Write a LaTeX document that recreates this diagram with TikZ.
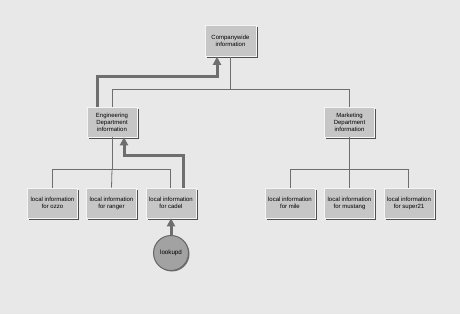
\documentclass[tikz,border=0pt]{standalone}
\usepackage{fontspec}
\setmainfont{Liberation Sans}
\usetikzlibrary{arrows.meta,shadows}
\definecolor{bggray}{HTML}{E8E8E8}
\definecolor{boxgray}{HTML}{C6C6C6}
\definecolor{linegray}{HTML}{6E6E6E}
\definecolor{shadowgray}{HTML}{505050}
\definecolor{ballgray}{HTML}{A2A2A2}
\begin{document}
\begin{tikzpicture}[x=1pt,y=-1pt,
    infobox/.style={rectangle,fill=boxgray,draw=white!80!boxgray,line width=0.6pt,
      minimum width=50pt,minimum height=30pt,inner sep=1pt,align=center,
      font=\fontsize{6}{7}\selectfont,
      drop shadow={shadow xshift=1.6pt,shadow yshift=-1.6pt,fill=shadowgray,opacity=1}},
    tree/.style={draw=linegray,line width=0.8pt},
    flow/.style={draw=linegray,line width=3pt,-{Triangle[length=8pt,width=8pt]}}]

\useasboundingbox (0,0) rectangle (460,314);
\fill[bggray] (0,0) rectangle (460,314);

   \node[infobox,minimum width=51pt,minimum height=31pt] at (230.5,41) (company) {Companywide\\information};
   \node[infobox] at (112,122) (eng) {Engineering\\Department\\information};
   \node[infobox] at (349.5,122) (mkt) {Marketing\\Department\\information};

   \node[infobox] at (52.5,203) (ozzo) {local information\\for ozzo};
   \node[infobox] at (111.5,203) (ranger) {local information\\for ranger};
   \node[infobox] at (171,203) (cadel) {local information\\for cadel};
   \node[infobox] at (290,203) (mile) {local information\\for mile};
   \node[infobox] at (349.5,203) (mustang) {local information\\for mustang};
   \node[infobox] at (409,203) (super) {local information\\for super21};

   \node[circle,minimum size=35pt,inner sep=0pt,fill=ballgray,draw=gray!80!black,
     line width=1pt,font=\fontsize{6.2}{7}\selectfont,
     drop shadow={shadow xshift=1pt,shadow yshift=-1pt,fill=shadowgray!80,opacity=1}]
     at (171,253) (lookupd) {lookupd};

   \coordinate (busA) at (0,89);
   \coordinate (busB) at (0,169);
   \coordinate (upA) at (97,76);
   \coordinate (upB) at (183,155);

   % tree
   \draw[tree] (company.south) -- (company.south |- busA) -| (eng.north);
   \draw[tree] (company.south |- busA) -| (mkt.north);
   \draw[tree] (eng.south) -- (eng.south |- busB) -| (ozzo.north);
   \draw[tree] (eng.south |- busB) -- (ranger.north);
   \draw[tree] (eng.south |- busB) -| ([xshift=-1pt]cadel.north);
   \draw[tree] (mkt.south) -- (mkt.south |- busB) -| (mile.north);
   \draw[tree] (mkt.south |- busB) -- (mustang.north);
   \draw[tree] (mkt.south |- busB) -| ([xshift=-1pt]super.north);

   % lookup path
   \draw[flow] (lookupd.north) -- (cadel.south);
   \draw[flow] (cadel.north -| upB) -- (upB) -| ([xshift=12pt]eng.south);
   \draw[flow] (eng.north -| upA) -- (upA) -| ([xshift=-13.5pt]company.south);

\end{tikzpicture}
\end{document}
